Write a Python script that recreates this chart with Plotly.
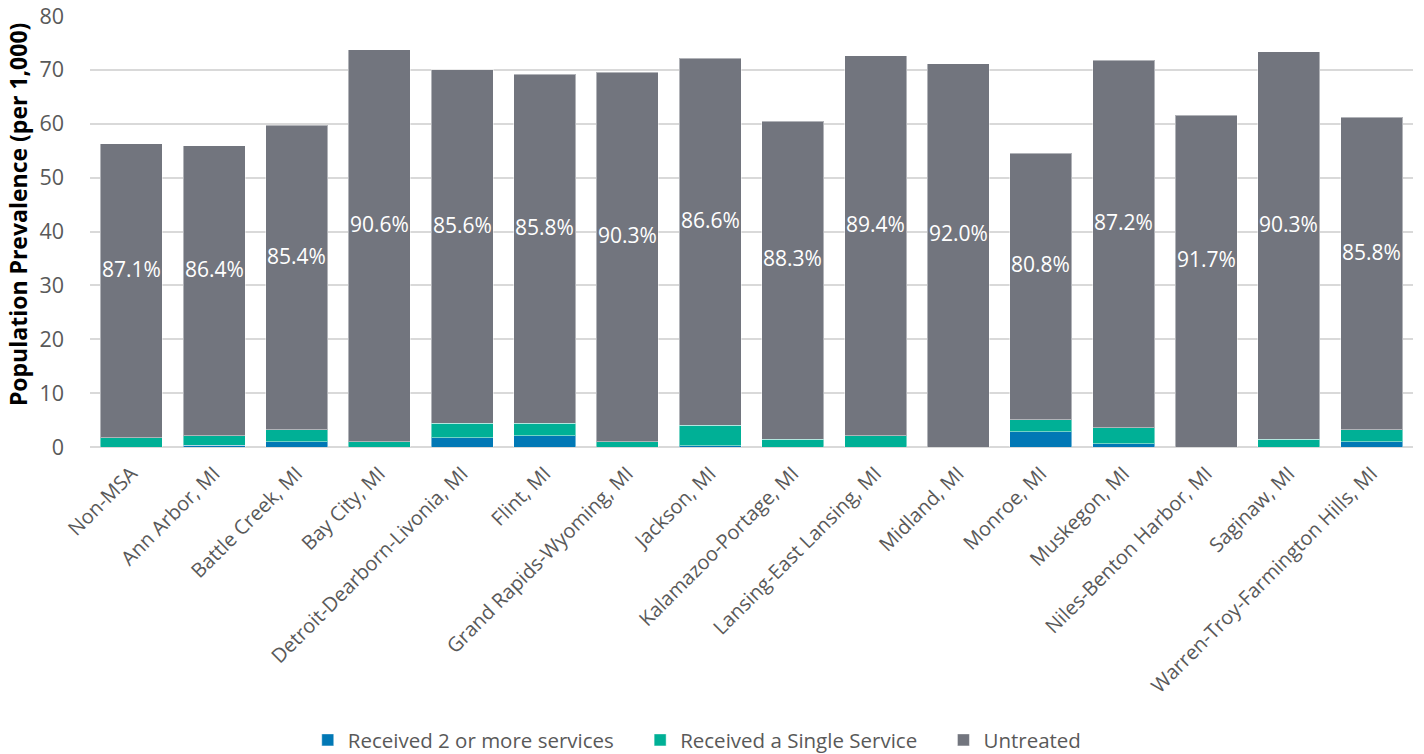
import plotly.graph_objects as go

categories = ["Non-MSA", "Ann Arbor, MI", "Battle Creek, MI", "Bay City, MI",
              "Detroit-Dearborn-Livonia, MI", "Flint, MI", "Grand Rapids-Wyoming, MI",
              "Jackson, MI", "Kalamazoo-Portage, MI", "Lansing-East Lansing, MI",
              "Midland, MI", "Monroe, MI", "Muskegon, MI", "Niles-Benton Harbor, MI",
              "Saginaw, MI", "Warren-Troy-Farmington Hills, MI"]
totals = [56.3, 55.9, 59.7, 73.7, 70.0, 69.2, 69.6, 72.2, 60.5, 72.6, 71.1, 54.5, 71.8, 61.6, 73.4, 61.2]
multi = [0.0, 0.3, 1.0, 0.0, 1.75, 2.1, 0.0, 0.25, 0.0, 0.0, 0.0, 2.8, 0.6, 0.0, 0.0, 1.0]
single = [1.75, 1.8, 2.2, 1.0, 2.65, 2.3, 1.0, 3.75, 1.4, 2.1, 0.0, 2.3, 3.0, 0.0, 1.4, 2.2]
labels = ["87.1%", "86.4%", "85.4%", "90.6%", "85.6%", "85.8%", "90.3%", "86.6%",
          "88.3%", "89.4%", "92.0%", "80.8%", "87.2%", "91.7%", "90.3%", "85.8%"]
series_names = ["Received 2 or more services", "Received a Single Service", "Untreated"]
y_title = "Population Prevalence (per 1,000)"
untreated = [round(t - m - s, 2) for t, m, s in zip(totals, multi, single)]

FONT = "Open Sans, Noto Sans, sans-serif"
line = dict(color="rgba(255,255,255,0.45)", width=1)
PAD = "\u00a0" * 4

fig = go.Figure()
fig.add_bar(x=categories, y=multi, name=series_names[0] + PAD,
            marker=dict(color="#0178B5", line=line))
fig.add_bar(x=categories, y=single, name=series_names[1] + PAD,
            marker=dict(color="#00B096", line=line))
fig.add_bar(x=categories, y=untreated, name=series_names[2],
            marker=dict(color="#72757E", line=line))

for c, m, s, t, lab in zip(categories, multi, single, totals, labels):
    mid = (m + s + t) / 2
    fig.add_annotation(x=c, y=mid, text=lab, showarrow=False, yshift=22,
                       font=dict(family=FONT, size=21, color="white"))

fig.add_annotation(xref="paper", yref="paper", x=0, y=0.538, xshift=-72,
                   text="<b>" + y_title + "</b>", textangle=-90, showarrow=False,
                   xanchor="center", yanchor="middle",
                   font=dict(family=FONT, size=23, color="black"))

fig.update_layout(
    barmode="stack",
    bargap=0.25,
    width=1424, height=754,
    margin=dict(l=90, r=11, t=16, b=307, autoexpand=False),
    plot_bgcolor="white", paper_bgcolor="white",
    font=dict(family=FONT, color="#595959"),
    showlegend=True,
    legend=dict(orientation="h", x=0.459, xanchor="center", y=-0.68, yanchor="middle",
                font=dict(family=FONT, size=20.5, color="#595959"),
                traceorder="normal", itemwidth=30),
)
fig.update_yaxes(range=[0, 80], dtick=10, showgrid=True, gridcolor="#D9D9D9", gridwidth=1.5,
                 zeroline=True, zerolinecolor="#D9D9D9", zerolinewidth=1.5,
                 ticklabelstandoff=25, ticklabeloverflow="allow",
                 tickfont=dict(family=FONT, size=21.5, color="#595959"))
fig.update_xaxes(tickangle=-45, tickfont=dict(family=FONT, size=20, color="#595959"),
                 ticklabelstandoff=10, showline=False, ticks="")

fig.write_html("out.html", config={"displayModeBar": False},
               post_script="document.body.style.margin='0';")
